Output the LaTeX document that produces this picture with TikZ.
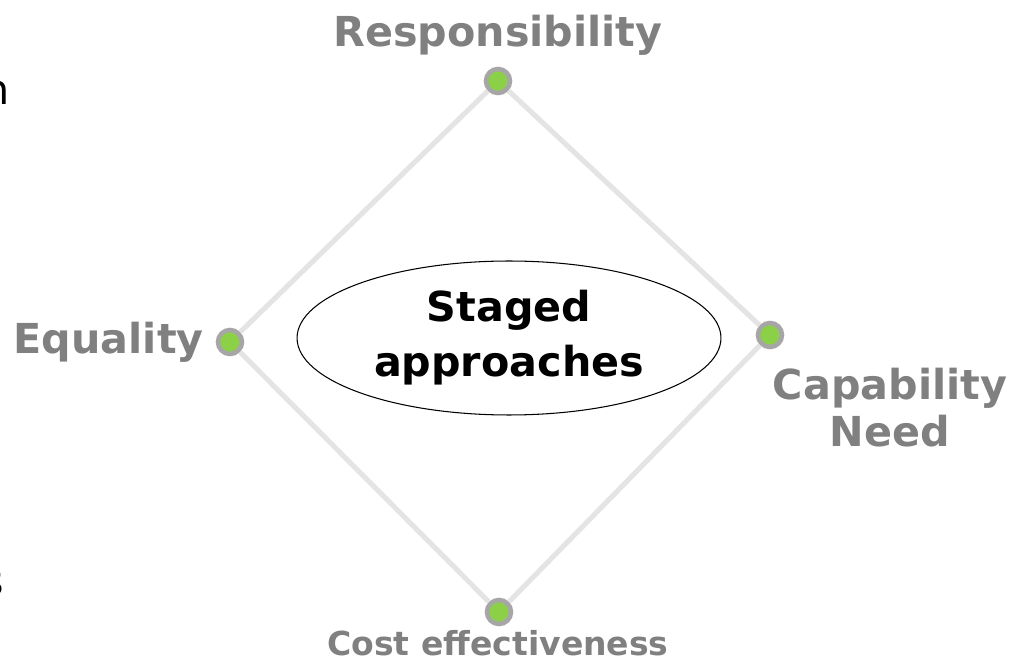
\documentclass[tikz,border=0pt]{standalone}
\usepackage{fontspec}
\setmainfont{DejaVu Sans}
\usetikzlibrary{shapes}
\definecolor{rimgray}{RGB}{166,166,166}
\definecolor{dotgreen}{RGB}{140,208,72}
\definecolor{linegray}{RGB}{228,228,228}
\definecolor{lblgray}{RGB}{128,128,128}

\begin{document}
\begin{tikzpicture}[x=0.02cm,y=-0.02cm,
  dot/.style={circle, draw=rimgray, fill=dotgreen, line width=2.6pt, minimum size=0.48cm, inner sep=0pt},
  lbl/.style={text=lblgray, font=\fontsize{23.5}{27.3}\selectfont\bfseries, inner sep=0pt, align=center},
  edge/.style={draw=linegray, line width=2.9pt}]
\useasboundingbox (0,0) rectangle (1013,661);
\node[dot] (resp) at (498,81){};
\node[dot] (eq) at (230,342){};
\node[dot] (cap) at (770,335){};
\node[dot] (cost) at (499,612){};
\draw[edge] (resp) -- (eq);
\draw[edge] (resp) -- (cap);
\draw[edge] (eq) -- (cost);
\draw[edge] (cap) -- (cost);
\node[ellipse, draw, line width=0.6pt, inner sep=0pt, minimum width=8.48cm, minimum height=3.08cm,
  align=center, font=\fontsize{23.5}{31.2}\selectfont\bfseries] (staged) at (509,338){Staged\\approaches};
\node[lbl, anchor=base] (resplbl) at (498,47){Responsibility};
\node[lbl, anchor=base east] (eqlbl) at (204,354){Equality};
\node[lbl, anchor=base] (caplbl) at (890,447){Capability\\Need};
\node[lbl, anchor=base, font=\fontsize{18.8}{22}\selectfont\bfseries] (costlbl) at (498,655){Cost effectiveness};
% text cut off at the left edge
\node[anchor=base east, inner sep=0pt, font=\fontsize{23.5}{28}\selectfont] (cutn) at (10,105){n};
\node[anchor=base east, inner sep=0pt, font=\fontsize{23.5}{28}\selectfont] (cuts) at (4,595){s};
\end{tikzpicture}
\end{document}
